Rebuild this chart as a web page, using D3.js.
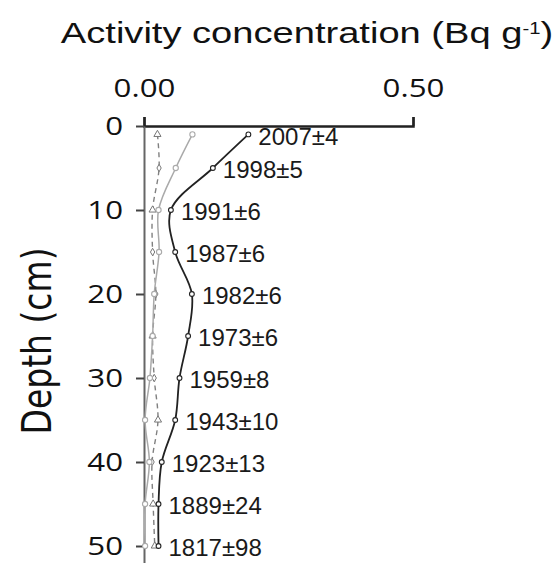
<!DOCTYPE html>
<html>
<head>
<meta charset="utf-8">
<script src="https://cdn.jsdelivr.net/npm/d3@7"></script>
<style>
  html, body { margin: 0; padding: 0; background: #fff; }
  svg { display: block; }
</style>
</head>
<body>
<svg id="svg"></svg>
<script>
// depth of each slice (cm) and the three profiles
const depths = [1, 5, 10, 15, 20, 25, 30, 35, 40, 45, 50];
const darkValues = [0.194, 0.128, 0.050, 0.058, 0.089, 0.082, 0.066, 0.058, 0.033, 0.027, 0.027];
const greyValues = [0.090, 0.059, 0.027, 0.028, 0.019, 0.016, 0.011, 0.002, 0.010, 0.002, 0.002];
const dashedValues = [0.025, 0.028, 0.016, 0.016, 0.022, 0.016, 0.019, 0.026, 0.015, 0.017, 0.020];
const dashedShapes = ["triangle", "diamond", "triangle", "diamond", "diamond", "triangle",
                      "diamond", "triangle", "diamond", "triangle", "triangle"];
const dateLabels = ["2007±4", "1998±5", "1991±6", "1987±6", "1982±6", "1973±6",
                    "1959±8", "1943±10", "1923±13", "1889±24", "1817±98"];
const xTicks = [0, 0.5];
const yTicks = [0, 10, 20, 30, 40, 50];

const w = 559;
const h = 563;
const stretch = 1.25; // the original figure is squashed sideways, text looks wide

let svg = d3.select("#svg")
  .attr("width", w)
  .attr("height", h)
  .attr("viewBox", "0 0 " + w + " " + h);

const xScale = d3.scaleLinear().domain([0, 0.5]).range([144, 413]);
const yScale = d3.scaleLinear().domain([0, 52]).range([126, 126 + 52 * 8.4]);

// title
let title = svg.append("text")
  .attr("transform", "translate(307,43) scale(1.27,1)")
  .attr("text-anchor", "middle")
  .attr("font-family", "'Liberation Sans', Arial, sans-serif")
  .attr("font-size", "30px")
  .attr("fill", "#111");
title.append("tspan").text("Activity concentration (Bq g");
title.append("tspan").attr("baseline-shift", "super").attr("font-size", "16px").text("-1");
title.append("tspan").text(")");

// y label
svg.append("text")
  .attr("transform", "translate(51,341) scale(" + stretch + ",1) rotate(-90)")
  .attr("text-anchor", "middle")
  .attr("font-family", "'DejaVu Sans', sans-serif")
  .attr("font-size", "33px")
  .attr("fill", "#111")
  .text("Depth (cm)");

// axes
let xAxis = d3.axisTop(xScale)
  .tickValues(xTicks)
  .tickSize(9)
  .tickSizeOuter(9)
  .tickPadding(20)
  .tickFormat(d3.format(".2f"));
let xg = svg.append("g")
  .attr("transform", "translate(0," + yScale(0) + ")")
  .call(xAxis);
xg.select(".domain").attr("stroke", "#222").attr("stroke-width", 2.5);
xg.selectAll(".tick line").attr("stroke", "#222").attr("stroke-width", 2);
xg.selectAll("text")
  .attr("transform", "scale(" + stretch + ",1)")
  .attr("font-family", "'Open Sans', sans-serif")
  .attr("font-size", "25px")
  .attr("fill", "#111");

let yAxis = d3.axisLeft(yScale)
  .tickValues(yTicks)
  .tickSize(8)
  .tickSizeOuter(0)
  .tickPadding(8.8);
let yg = svg.append("g")
  .attr("transform", "translate(" + xScale(0) + ",0)")
  .call(yAxis);
yg.select(".domain").attr("stroke", "#666").attr("stroke-width", 2);
yg.selectAll(".tick line").attr("stroke", "#444").attr("stroke-width", 2);
yg.selectAll("text")
  .attr("transform", "scale(" + stretch + ",1)")
  .attr("font-family", "'Open Sans', sans-serif")
  .attr("font-size", "25px")
  .attr("fill", "#111");

// helper to build point objects
function points(values) {
  return depths.map((d, i) => ({ depth: d, value: values[i], i: i }));
}

const line = d3.line()
  .x(d => xScale(d.value))
  .y(d => yScale(d.depth))
  .curve(d3.curveCatmullRom.alpha(0.5));

// dashed profile
svg.append("path")
  .datum(points(dashedValues))
  .attr("d", line)
  .attr("fill", "none")
  .attr("stroke", "#808080")
  .attr("stroke-width", 1.4)
  .attr("stroke-dasharray", "5,4");

svg.selectAll(".dashed-mark")
  .data(points(dashedValues))
  .enter()
  .append("path")
  .attr("class", "dashed-mark")
  .attr("transform", d => "translate(" + xScale(d.value) + "," + yScale(d.depth) + ")")
  .attr("d", d => d3.symbol()
      .type(dashedShapes[d.i] === "triangle" ? d3.symbolTriangle : d3.symbolDiamond)
      .size(dashedShapes[d.i] === "triangle" ? 22 : 16)())
  .attr("fill", "#fff")
  .attr("stroke", "#777")
  .attr("stroke-width", 1);

// light grey profile
svg.append("path")
  .datum(points(greyValues))
  .attr("d", line)
  .attr("fill", "none")
  .attr("stroke", "#aaa")
  .attr("stroke-width", 1.5);

svg.selectAll(".grey-mark")
  .data(points(greyValues))
  .enter()
  .append("circle")
  .attr("class", "grey-mark")
  .attr("cx", d => xScale(d.value))
  .attr("cy", d => yScale(d.depth))
  .attr("r", 2.6)
  .attr("fill", "#fff")
  .attr("stroke", "#aaa")
  .attr("stroke-width", 1.1);

// dark profile with dates
svg.append("path")
  .datum(points(darkValues))
  .attr("d", line)
  .attr("fill", "none")
  .attr("stroke", "#222")
  .attr("stroke-width", 1.8);

svg.selectAll(".dark-mark")
  .data(points(darkValues))
  .enter()
  .append("circle")
  .attr("class", "dark-mark")
  .attr("cx", d => xScale(d.value))
  .attr("cy", d => yScale(d.depth))
  .attr("r", 2.4)
  .attr("fill", "#fff")
  .attr("stroke", "#222")
  .attr("stroke-width", 1.1);

svg.selectAll(".date-label")
  .data(points(darkValues))
  .enter()
  .append("text")
  .attr("class", "date-label")
  .attr("x", d => xScale(d.value) + 10)
  .attr("y", d => yScale(d.depth) + 2)
  .attr("dy", "0.35em")
  .attr("font-family", "'Liberation Sans', Arial, sans-serif")
  .attr("font-size", "24px")
  .attr("fill", "#1a1a1a")
  .text(d => dateLabels[d.i]);
</script>
</body>
</html>
